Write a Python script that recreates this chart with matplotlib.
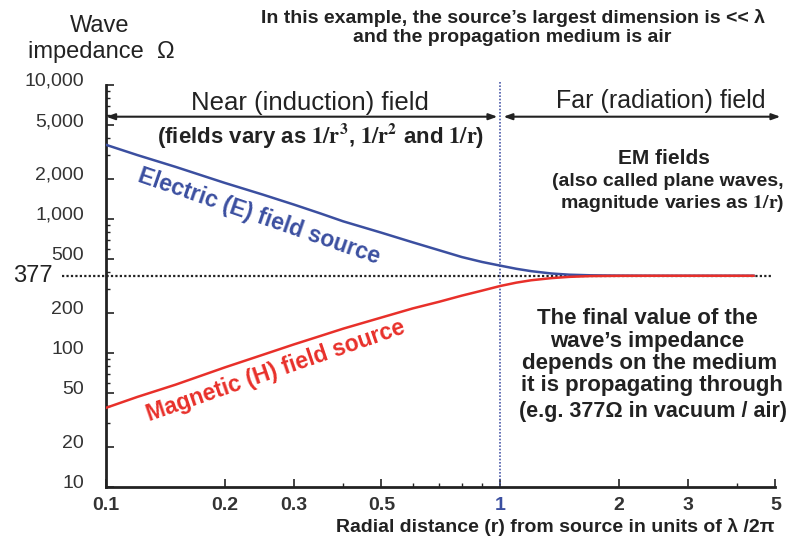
import matplotlib
matplotlib.use("Agg")
import matplotlib.pyplot as plt
import matplotlib.transforms as mtransforms
from matplotlib.ticker import FixedLocator, LogLocator, NullFormatter

plt.rcParams['font.family'] = ['Liberation Sans', 'DejaVu Sans']
plt.rcParams['mathtext.fontset'] = 'stix'

# values
r_vals = [0.1, 0.12, 0.15, 0.2, 0.25, 0.3, 0.35, 0.4, 0.5, 0.6, 0.7, 0.8, 0.9,
          1.0, 1.1, 1.2, 1.35, 1.5, 1.7, 2.0, 2.5, 3.0, 4.4]
e_vals = [3575, 3000, 2450, 1860, 1520, 1280, 1100, 960, 790, 670, 585, 520, 478,
          449, 425, 408, 392, 384, 380, 378, 377, 377, 377]
h_vals = [39, 47, 58, 78, 97, 116, 134, 152, 184, 215, 241, 268, 292,
          316, 335, 349, 362, 370, 375, 376.5, 377, 377, 377]

free_space = 377
boundary = 1.0
x_ticks = [0.1, 0.2, 0.3, 0.5, 1, 2, 3, 5]
x_labels = ["0.1", "0.2", "0.3", "0.5", "1", "2", "3", "5"]
y_ticks = [10, 20, 50, 100, 200, 500, 1000, 2000, 5000, 10000]
y_labels = ["10", "20", "50", "100", "200", "500", "1,000", "2,000", "5,000", "10,000"]

blue = "#3b4fa0"
red = "#e8302a"
dark = "#222222"

fig = plt.figure(figsize=(7.92, 5.39), dpi=100)
ax = fig.add_axes([0.134, 0.0965, 0.845, 0.7458])
ax.set_xscale("log")
ax.set_yscale("log")
ax.set_xlim(0.1, 5)
ax.set_ylim(10, 10000)

ax.plot(r_vals, e_vals, color=blue, lw=1.8, zorder=3)
ax.plot(r_vals, h_vals, color=red, lw=1.8, zorder=3)

# 377 ohm reference line, reaching left of the axis
trans = mtransforms.blended_transform_factory(ax.transAxes, ax.transData)
ax.plot([-0.066, 0.997], [free_space, free_space], transform=trans, color=dark,
        ls=(0, (1, 1)), lw=1.6, clip_on=False, zorder=2)
ax.text(-0.08, free_space, "377", transform=trans, ha="right", va="center",
        fontsize=17, color=dark)

# near / far boundary
ax.axvline(boundary, color="#4a5aa8", ls=(0, (1, 1)), lw=1.2, ymax=1.01, clip_on=False)

for s in ["top", "right"]:
    ax.spines[s].set_visible(False)
for s in ["left", "bottom"]:
    ax.spines[s].set_linewidth(2)
    ax.spines[s].set_color(dark)

ax.xaxis.set_major_locator(FixedLocator(x_ticks))
ax.set_xticklabels(x_labels, fontsize=14, fontweight="bold", color="#333333")
ax.get_xticklabels()[4].set_color(blue)
ax.xaxis.set_minor_locator(LogLocator(subs=(4, 6, 7, 8, 9)))
ax.xaxis.set_minor_formatter(NullFormatter())
ax.yaxis.set_major_locator(FixedLocator(y_ticks))
ax.set_yticklabels(y_labels, fontsize=14, color="#333333")
ax.yaxis.set_minor_locator(LogLocator(subs=(3, 4, 6, 7, 8, 9)))
ax.yaxis.set_minor_formatter(NullFormatter())
ax.tick_params(axis="both", which="major", direction="in", length=6, width=1.2, color=dark)
ax.tick_params(axis="both", which="minor", direction="in", length=3, width=1, color=dark)
ax.tick_params(axis="y", which="major", pad=16)
ax.tick_params(axis="x", which="major", pad=7)
lift = mtransforms.ScaledTranslation(0, 4 / 72, fig.dpi_scale_trans)
for lab in ax.get_yticklabels():
    lab.set_transform(lab.get_transform() + lift)

# region arrows
arrow = dict(arrowstyle="<|-|>,head_length=0.5,head_width=0.18", color=dark, lw=1.5,
             shrinkA=0, shrinkB=0)
ax.annotate("", xy=(0.1, 5800), xytext=(0.985, 5800), arrowprops=arrow, annotation_clip=False)
ax.annotate("", xy=(1.02, 5800), xytext=(5.15, 5800), arrowprops=arrow, annotation_clip=False)

# curve labels
ax.text(0.245, 1050, "Electric (E) field source", rotation=-19, ha="center", va="center",
        fontsize=16.5, fontweight="bold", color=blue, rotation_mode="anchor")
ax.text(0.27, 74, "Magnetic (H) field source", rotation=19, ha="center", va="center",
        fontsize=16.5, fontweight="bold", color=red, rotation_mode="anchor")

W, H = 792, 539


def ftext(px, py, s, **kw):
    fig.text(px / W, 1 - py / H, s, ha="center", va="center", color=dark, **kw)


ftext(100, 26, "Wave", fontsize=17)
ftext(101, 52, "impedance  \u03a9", fontsize=17)
ftext(513, 18, "In this example, the source\u2019s largest dimension is << \u03bb",
      fontsize=14, fontweight="bold")
ftext(512, 38, "and the propagation medium is air", fontsize=14, fontweight="bold")

ftext(310, 103, "Near (induction) field", fontsize=18.5)
ftext(321, 135, r"(fields vary as $\mathbf{1/r^{3}}$, $\mathbf{1/r^{2}}$ and $\mathbf{1/r}$)",
      fontsize=16, fontweight="bold")
ftext(661, 101, "Far (radiation) field", fontsize=18)
ftext(664, 158, "EM fields", fontsize=15, fontweight="bold")
ftext(668, 182, "(also called plane waves,", fontsize=14, fontweight="bold")
ftext(672, 203, r"magnitude varies as $\mathbf{1/r}$)", fontsize=14, fontweight="bold")

ftext(647, 318, "The final value of the", fontsize=16, fontweight="bold")
ftext(647, 341, "wave\u2019s impedance", fontsize=16, fontweight="bold")
ftext(650, 363, "depends on the medium", fontsize=16, fontweight="bold")
ftext(652, 385, "it is propagating through", fontsize=16, fontweight="bold")
ftext(653, 411, "(e.g. 377\u03a9 in vacuum / air)", fontsize=15.5, fontweight="bold")

fig.text(775 / W, 1 - 527 / H, "Radial distance (r) from source in units of \u03bb /2\u03c0",
         ha="right", va="center", fontsize=14, fontweight="bold", color=dark)

fig.savefig("out.png", dpi=100)
